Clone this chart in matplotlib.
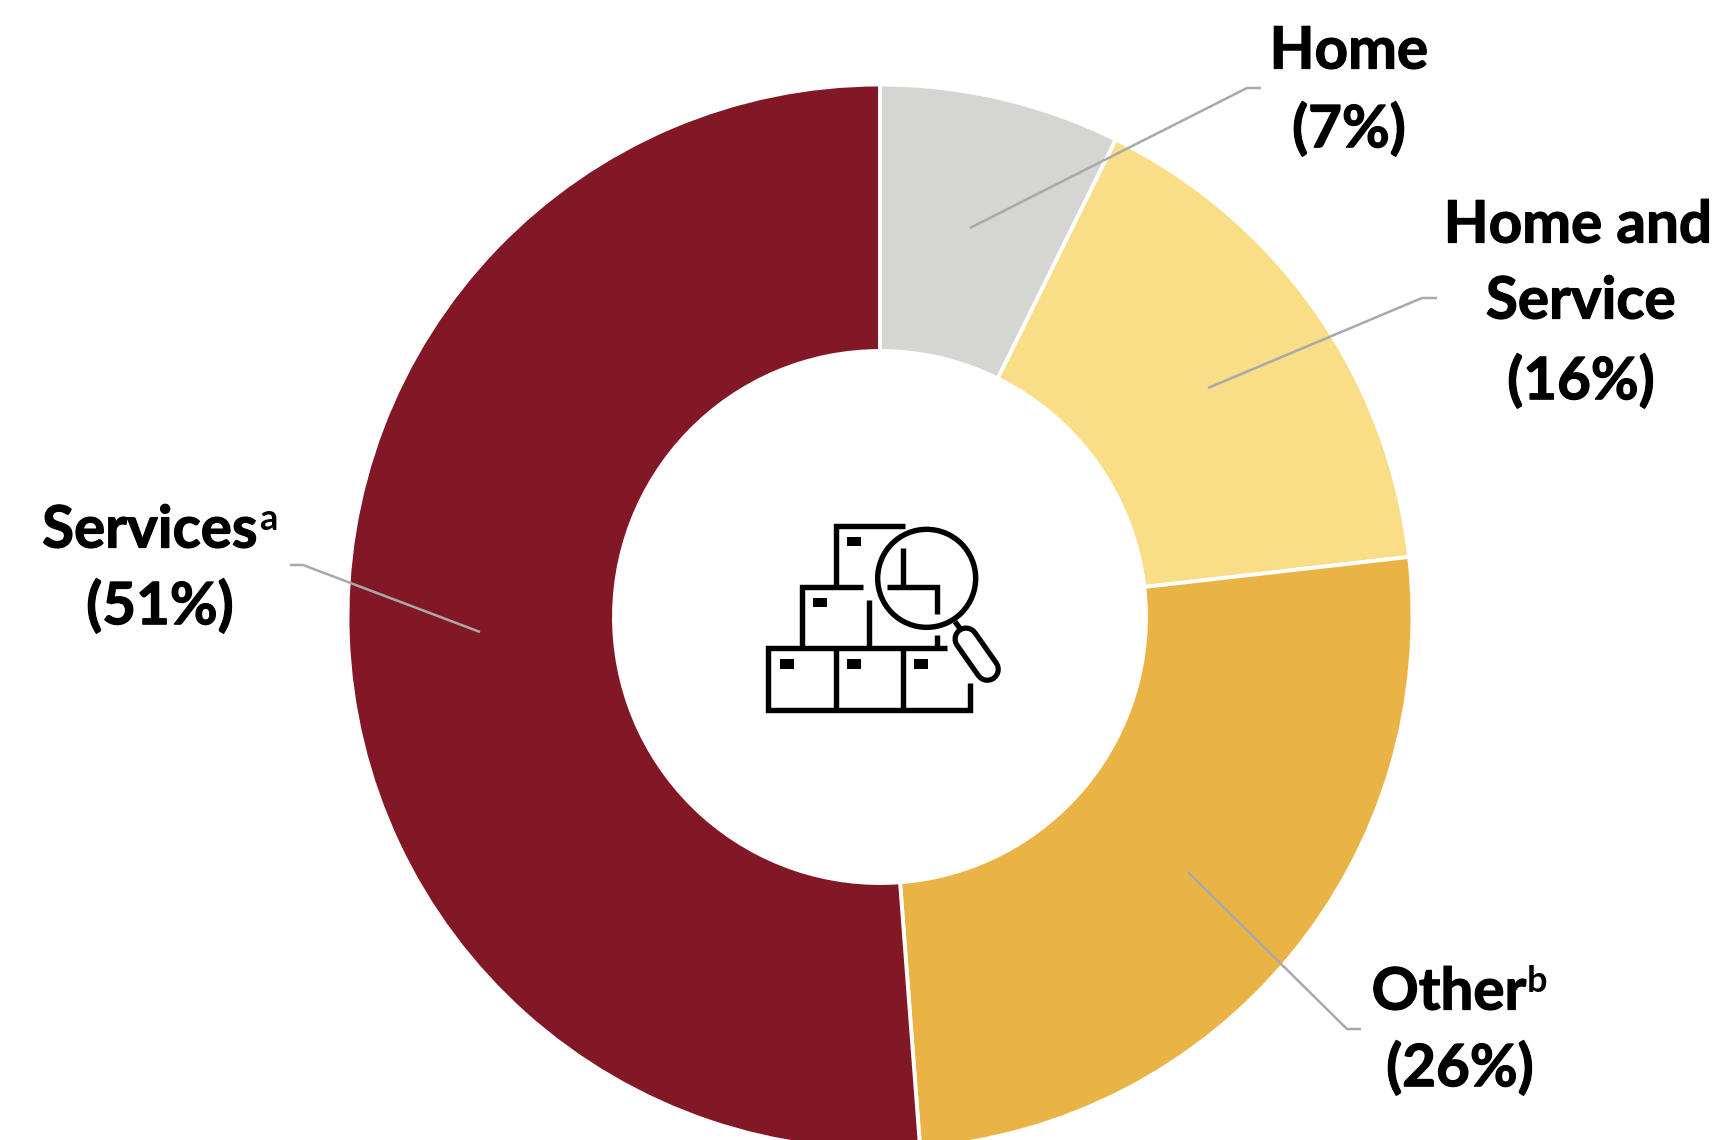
import matplotlib
matplotlib.use('Agg')
import matplotlib.pyplot as plt
import matplotlib.patheffects as pe

W, H = 1713, 1140

# donut values, clockwise from 12 o'clock
categories = ['Home', 'Home and Service', 'Other', 'Services']
shares = [7.3, 15.9, 25.6, 51.2]
colors = ['#D5D6D2', '#F9DD87', '#EAB345', '#821825']

plt.rcParams['font.family'] = ['Lato', 'DejaVu Sans']

fig = plt.figure(figsize=(W / 100, H / 100), dpi=100)
ax = fig.add_axes([0, 0, 1, 1])

cx, cy, R = 880, 617, 532.5


def py(y):
    # reference is measured from the top
    return H - y


ax.pie(shares, colors=colors, startangle=90, counterclock=False,
       center=(cx, py(cy)), radius=R,
       wedgeprops=dict(width=R - 266, edgecolor='white', linewidth=2.8))
ax.set_xlim(0, W)
ax.set_ylim(0, H)
ax.set_aspect('equal')
ax.axis('off')

# leader lines
leaders = [
    [(1261, 88), (1247, 88), (970, 228)],
    [(1437, 298), (1422, 298), (1208, 388)],
    [(1361, 1029), (1347, 1029), (1188, 872)],
    [(290, 565), (303, 565), (480, 632)],
]
for pts in leaders:
    ax.plot([p[0] for p in pts], [py(p[1]) for p in pts], color='#A9A9A9', lw=1.8,
            solid_capstyle='butt', zorder=3)

# labels, a thin stroke makes the bold as heavy as the reference
FS = 42
heavy = [pe.withStroke(linewidth=0.9, foreground='black')]
labels = [
    ('Home', 1349, 52), ('(7%)', 1349, 130),
    ('Home and', 1578, 226), ('Service', 1581, 302), ('(16%)', 1581, 382),
    ('Services', 150, 531), ('(51%)', 160, 607),
    ('Other', 1449, 993), ('(26%)', 1460, 1069),
]
for txt, x, y in labels:
    ax.text(x, py(y), txt, fontsize=FS, fontweight='bold', ha='center', va='center',
            color='black', zorder=4, path_effects=heavy)
ax.text(259, py(519), 'a', fontsize=26, fontweight='bold', ha='left', va='center', zorder=4)
ax.text(1527, py(982), 'b', fontsize=26, fontweight='bold', ha='left', va='center', zorder=4)


# centre icon: boxes and magnifier, coords in reference pixels
def ix(x):
    return 730 + x / 3


def iy(y):
    return py(490 + y / 3)


def seg(xs, ys, lw=3.9, color='black', cap='butt', z=5):
    ax.plot([ix(x) for x in xs], [iy(y) for y in ys], color=color, lw=lw,
            solid_capstyle=cap, solid_joinstyle='miter', zorder=z)


seg([650, 115, 115, 720, 720], [475, 475, 660, 660, 580])
seg([317, 317], [475, 660])
seg([518, 518], [475, 660])
seg([215, 215, 400], [475, 290, 290])
seg([418, 418], [330, 475])
seg([317, 317, 525], [290, 107, 107])
seg([518, 518], [175, 290])
seg([470, 620, 620], [290, 290, 372])
seg([620, 620], [435, 475])
for x0, x1, y0, y1 in [(350, 393, 140, 168), (250, 292, 323, 352), (150, 192, 508, 537),
                       (350, 393, 508, 537), (552, 595, 508, 537)]:
    ax.fill([ix(x0), ix(x1), ix(x1), ix(x0)], [iy(y0), iy(y0), iy(y1), iy(y1)],
            color='black', lw=0, zorder=5)
ax.add_patch(plt.Circle((ix(590), iy(265)), 49, fill=False, ec='black', lw=3.9, zorder=6))
seg([675, 697], [395, 425])
seg([708, 772], [447, 538], lw=19.5, cap='round', z=6)
seg([708, 772], [447, 538], lw=12, color='white', cap='round', z=7)

fig.savefig('out.png', dpi=100)
